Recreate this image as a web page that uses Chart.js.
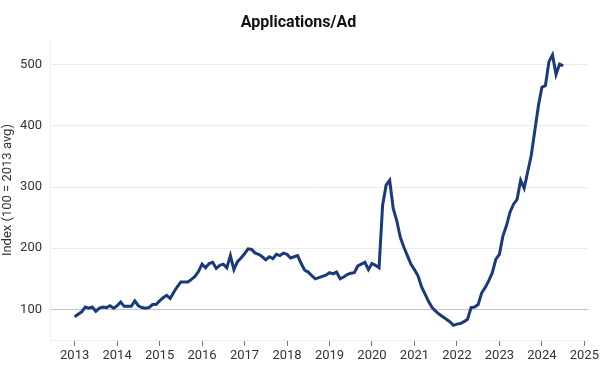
<!DOCTYPE html>
<html>
<head>
<meta charset="utf-8">
<script src="https://cdn.jsdelivr.net/npm/chart.js@4"></script>
<style>
    html, body { margin: 0; padding: 0; background: #fff; }
    #wrap { width: 601px; height: 370px; }
</style>
</head>
<body>
<div id="wrap"><canvas id="applicationsAd" width="601" height="370"></canvas></div>
<script>
// monthly index values, Jan 2013 .. Jul 2024
const startYear = 2013;
const applicationsPerAd = [
    88, 92, 96, 104, 102, 104, 97, 102, 104, 103, 106, 102,          // 2013
    106, 112, 105, 105, 105, 114, 106, 103, 102, 103, 108, 108,      // 2014
    114, 119, 123, 118, 128, 137, 145, 145, 145, 149, 154, 162,      // 2015
    174, 168, 175, 177, 167, 172, 174, 168, 188, 165, 178, 184,      // 2016
    191, 199, 198, 192, 190, 186, 181, 186, 183, 190, 188, 192,      // 2017
    190, 184, 186, 188, 175, 164, 161, 155, 150, 152, 154, 156,      // 2018
    160, 158, 161, 150, 153, 157, 159, 160, 171, 174, 177, 165,      // 2019
    175, 172, 168, 270, 303, 311, 265, 245, 218, 202, 188, 174,      // 2020
    165, 155, 137, 125, 113, 103, 97, 92, 88, 84, 80, 74,            // 2021
    76, 77, 80, 84, 103, 104, 108, 127, 136, 147, 160, 182,          // 2022
    190, 220, 237, 259, 272, 280, 311, 298, 325, 352, 392, 432,      // 2023
    463, 466, 505, 516, 484, 501, 498                                // 2024
];
const yearTicks = [2013, 2014, 2015, 2016, 2017, 2018, 2019, 2020, 2021, 2022, 2023, 2024, 2025];
const indexTicks = [100, 200, 300, 400, 500];

const points = applicationsPerAd.map((v, i) => ({ x: startYear + i / 12, y: v }));

const ctx = document.getElementById('applicationsAd');

new Chart(ctx, {
    type: 'line',
    data: {
        datasets: [{
            label: 'Applications/Ad',
            data: points,
            borderColor: '#1a3b7b',
            backgroundColor: '#1a3b7b',
            borderWidth: 3,
            pointRadius: 0,
            tension: 0
        }]
    },
    options: {
        responsive: false,
        animation: false,
        layout: {
            padding: { left: 0, right: 4, top: 0, bottom: 0 }
        },
        scales: {
            x: {
                type: 'linear',
                min: 2012.42,
                max: 2025.1,
                afterBuildTicks: axis => {
                    axis.ticks = yearTicks.map(v => ({ value: v }));
                },
                afterFit: axis => { axis.height = 30; },
                grid: {
                    drawOnChartArea: false,
                    drawTicks: true,
                    tickLength: 6,
                    tickColor: '#777'
                },
                border: { color: '#eeeeee' },
                ticks: {
                    padding: 2,
                    maxRotation: 0,
                    autoSkip: false,
                    color: '#333',
                    callback: v => String(v),
                    font: { family: 'Roboto', size: 13 }
                }
            },
            y: {
                min: 50,
                max: 540,
                afterBuildTicks: axis => {
                    axis.ticks = indexTicks.map(v => ({ value: v }));
                },
                afterFit: axis => { axis.width = 50; },
                grid: {
                    drawTicks: false,
                    color: c => (c.tick && c.tick.value === 100) ? '#c4c4c4' : '#ececec'
                },
                border: { color: '#eeeeee' },
                ticks: {
                    padding: 8,
                    color: '#333',
                    font: { family: 'Roboto', size: 13 }
                },
                title: {
                    display: true,
                    text: 'Index (100 = 2013 avg)',
                    color: '#333',
                    padding: { top: 0, bottom: 0 },
                    font: { family: 'Roboto', size: 13 }
                }
            }
        },
        plugins: {
            title: {
                display: true,
                text: 'Applications/Ad',
                color: '#111',
                padding: { top: 13, bottom: 8 },
                font: { family: 'Roboto', size: 16, weight: 'bold' }
            },
            legend: { display: false },
            tooltip: { enabled: false }
        }
    }
});
</script>
</body>
</html>
